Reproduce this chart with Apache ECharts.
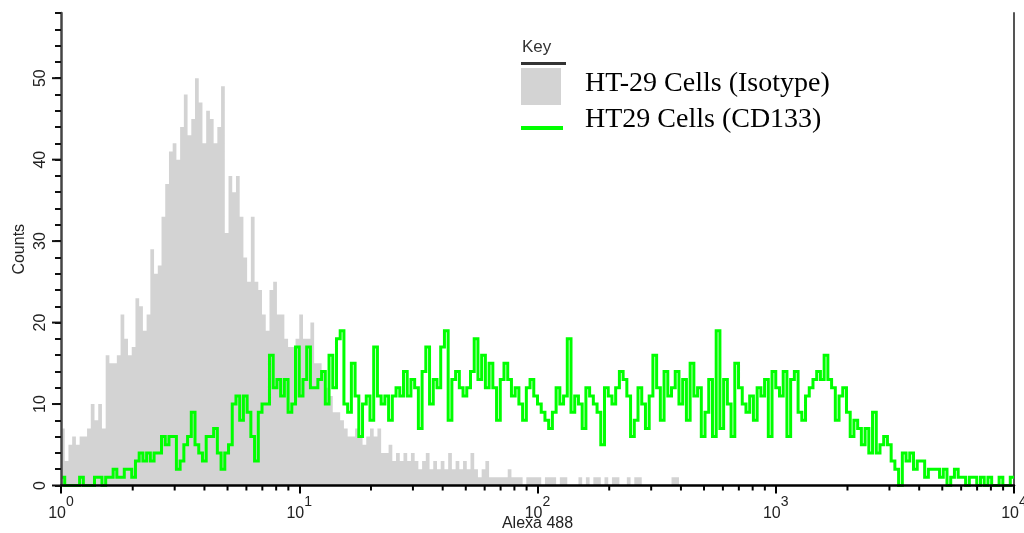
<!DOCTYPE html>
<html><head><meta charset="utf-8">
<script src="https://cdn.jsdelivr.net/npm/echarts@6/dist/echarts.min.js"></script>
<style>html,body{margin:0;padding:0;background:#fff}#c{width:1024px;height:533px}</style>
</head><body><div id="c"></div>
<script>
// Histogram channels: 64 bins per decade over 10^0 .. 10^4
const BINS_PER_DECADE = 64;

// HT-29 Cells (Isotype) counts per bin (bins beyond the last are zero)
const isotypeCounts = [
  7,3,5,6,5,6,6,7,10,8, 10,7,16,15,15,16,21,18,16,17,
  23,22,19,21,29,26,27,33,37,41, 42,40,44,48,43,45,50,47,42,46,
  45,42,44,49,31,38,36,38,33,28, 25,33,25,24,21,19,24,25,21,21,
  18,17,17,18,21,18,18,20,15,15, 14,12,
  11,9,9,8,7,6,6,7,6,5, 6,7,6,7,4,4,5,3,4,3,
  4,3,4,3,2,3,4,2,3,2, 3,2,4,2,3,2,3,2,4,2,
  1,2,3,1,1,1,1,1,2,1, 1,1,0,1,1,1,1,0,1,1,
  1,0,1,1,0,0,0,1,0,1, 0,1,1,0,1,0,1,1,0,0,
  1,0,1,1,0,0,0,0,0,0, 0,0,1,1
];

// HT29 Cells (CD133) counts per bin
const cd133Counts = [
  1,0,0,0,0,1,0,0,0,1, 1,0,1,1,2,1,1,2,2,1,
  3,4,3,4,3,4,4,6,5,6, 6,2,3,5,6,9,5,4,3,6,
  6,7,4,2,4,5,10,11,8,11, 9,6,3,9,10,10,
  16,12,13,11,13,9,10,17,
  11,13,17,12,12,13,14,10,16,12,18,19,10,9,15,11,
  6,10,11,8,17,11,10,11,8,11,12,11,14,11,13,12,7,14,
  17,10,13,12,17,19,8,13,14,12, 11,12,14,18,13,16,12,15,12,8,
  13,15,13,11,12,10,8,12,13,11, 10,9,8,7,9,12,10,11,18,9,
  11,10,7,12,11,10,9,5,12,11, 10,12,14,13,11,6,8,12,10,7,
  11,16,12,8,14,11,
  12,14,10,13,8,15,11,12,6,9, 13,6,19,7,13,10,6,15,12,10,
  9,11,8,12,11,13,6,14,12,11, 14,6,13,14,9,8,11,12,13,14,
  13,16,13,12,8,11,12,9,6,8, 7,5,7,4,9,4,5,6,5,3,
  2,0,4,3,4,2,3,
  3,1,2,2,2,1,2,0,1,2, 1,1,0,1,1,0,1,0,1,0, 0,1,0,0,1
];

// Axis tick values
const xMinorTicks = [2,3,4,5,6,7,8,9,20,30,40,50,60,70,80,90,200,300,400,500,600,700,800,900,2000,3000,4000,5000,6000,7000,8000,9000];
const yMajorTicks = [0,10,20,30,40,50];

const seriesNames = ['HT-29 Cells (Isotype)', 'HT29 Cells (CD133)'];

function toSteps(counts) {
  const pts = counts.map((c, i) => [Math.pow(10, i / BINS_PER_DECADE), c]);
  pts.push([Math.pow(10, counts.length / BINS_PER_DECADE), counts[counts.length - 1]]);
  return pts;
}

const chart = echarts.init(document.getElementById('c'), null, {renderer: 'canvas'});
const SANS = 'Liberation Sans, Arial, sans-serif';
const SERIF = 'Liberation Serif, Times New Roman, serif';

chart.setOption({
  animation: false,
  backgroundColor: '#fff',
  grid: {left: 61, right: 10, top: 13, bottom: 47.5, containLabel: false, outerBoundsMode: 'none'},
  xAxis: {
    type: 'log', logBase: 10, min: 1, max: 10000,
    z: 5,
    name: 'Alexa 488', nameLocation: 'middle', nameGap: 30, nameMoveOverlap: false,
    nameTextStyle: {fontSize: 16, fontFamily: SANS, color: '#222'},
    axisLine: {show: true, lineStyle: {color: '#000', width: 2.5}},
    axisTick: {show: true, length: 8, lineStyle: {color: '#000', width: 2}},
    splitLine: {show: false},
    minorTick: {show: false},
    axisLabel: {
      margin: 10,
      formatter: v => '{b|10}{s|' + Math.round(Math.log10(v)) + '}',
      rich: {
        b: {fontSize: 16, fontFamily: SANS, color: '#222', lineHeight: 26, verticalAlign: 'bottom'},
        s: {fontSize: 14, fontFamily: SANS, color: '#222', verticalAlign: 'top'}
      }
    }
  },
  yAxis: [{
    type: 'value', min: 0, max: 58, interval: 2, position: 'left',
    z: 5,
    name: 'Counts', nameLocation: 'middle', nameGap: 33, nameMoveOverlap: false,
    nameTextStyle: {fontSize: 16, fontFamily: SANS, color: '#222'},
    axisLine: {show: true, lineStyle: {color: '#444', width: 2.5}},
    axisTick: {show: true, length: 6, lineStyle: {color: '#111', width: 2}},
    splitLine: {show: false},
    axisLabel: {
      rotate: 90, margin: 12, fontSize: 16, fontFamily: SANS, color: '#222',
      formatter: v => (v % 10 === 0 ? String(v) : '')
    }
  }, {
    type: 'value', min: 0, max: 58, position: 'right',
    axisLine: {show: true, lineStyle: {color: '#555', width: 2}},
    axisTick: {show: false}, axisLabel: {show: false}, splitLine: {show: false}
  }],
  series: [{
    name: seriesNames[0], type: 'line', step: 'end', symbol: 'none', z: 2,
    data: toSteps(isotypeCounts),
    lineStyle: {width: 0, color: '#d3d3d3'},
    areaStyle: {color: '#d3d3d3', opacity: 1}
  }, {
    name: seriesNames[1], type: 'line', step: 'end', symbol: 'none', z: 3, clip: false,
    data: toSteps(cd133Counts),
    lineStyle: {width: 3, color: '#00ff00', join: 'miter'}
  }, {
    type: 'custom', silent: true, z: 6, clip: false,
    data: xMinorTicks.map(v => [v, 0]),
    renderItem: (params, api) => {
      const p = api.coord([api.value(0), 0]);
      return {type: 'line', shape: {x1: p[0], y1: p[1], x2: p[0], y2: p[1] + 5}, style: {stroke: '#000', lineWidth: 2}};
    }
  }, {
    type: 'custom', silent: true, z: 6, clip: false,
    data: yMajorTicks.map(v => [1, v]),
    renderItem: (params, api) => {
      const p = api.coord([1, api.value(1)]);
      return {type: 'line', shape: {x1: p[0] - 9, y1: p[1], x2: p[0], y2: p[1]}, style: {stroke: '#111', lineWidth: 2}};
    }
  }],
  graphic: [
    {type: 'text', left: 522, top: 39, style: {text: 'Key', fontSize: 17, fontFamily: SANS, fill: '#333'}},
    {type: 'rect', shape: {x: 521, y: 62, width: 45, height: 3}, style: {fill: '#333'}},
    {type: 'rect', shape: {x: 521, y: 68, width: 40, height: 37}, style: {fill: '#d3d3d3'}},
    {type: 'rect', shape: {x: 521, y: 126, width: 42, height: 4}, style: {fill: '#00ff00'}},
    {type: 'text', x: 585, y: 84, style: {text: seriesNames[0], fontSize: 28, fontFamily: SERIF, fill: '#000', verticalAlign: 'middle'}},
    {type: 'text', x: 585, y: 120, style: {text: seriesNames[1], fontSize: 28, fontFamily: SERIF, fill: '#000', verticalAlign: 'middle'}}
  ]
});
</script>
</body></html>
